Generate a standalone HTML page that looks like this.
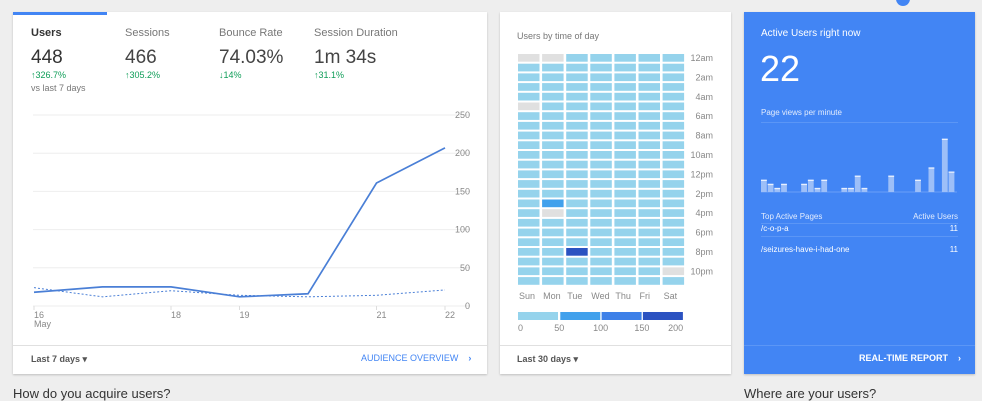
<!DOCTYPE html>
<html><head><meta charset="utf-8"><style>
body{margin:0;width:982px;height:400px;overflow:hidden;background:#eeeeee;font-family:"Liberation Sans",sans-serif;position:relative}
.card{position:absolute;top:12px;height:362px;background:#fff;box-shadow:0 1px 2px rgba(0,0,0,.2)}
.abs{position:absolute;white-space:nowrap}
</style></head><body>
<div class="abs" style="left:896px;top:-8px;width:14px;height:14px;border-radius:50%;background:#4285f4"></div>

<div class="card" style="left:13px;width:474px">
  <div class="abs" style="left:0;top:0;width:94px;height:3px;background:#4285f4"></div>
  <div class="abs" style="left:18px;top:15px">
    <div style="font-size:11px;color:#333;font-weight:600">Users</div>
    <div style="font-size:19px;color:#333;margin-top:8px">448</div>
    <div style="font-size:9px;color:#0f9d58;margin-top:1px">↑326.7%</div>
    <div style="font-size:9px;color:#777;margin-top:3px">vs last 7 days</div>
  </div>
  <div class="abs" style="left:112px;top:15px">
    <div style="font-size:11px;color:#777">Sessions</div>
    <div style="font-size:19px;color:#444;margin-top:8px">466</div>
    <div style="font-size:9px;color:#0f9d58;margin-top:1px">↑305.2%</div>
  </div>
  <div class="abs" style="left:206px;top:15px">
    <div style="font-size:11px;color:#777">Bounce Rate</div>
    <div style="font-size:19px;color:#444;margin-top:8px">74.03%</div>
    <div style="font-size:9px;color:#0f9d58;margin-top:1px">↓14%</div>
  </div>
  <div class="abs" style="left:301px;top:15px">
    <div style="font-size:11px;color:#777">Session Duration</div>
    <div style="font-size:19px;color:#444;margin-top:8px">1m 34s</div>
    <div style="font-size:9px;color:#0f9d58;margin-top:1px">↑31.1%</div>
  </div>
  <div class="abs" style="left:0;top:333px;width:474px;height:1px;background:#e0e0e0"></div>
  <div class="abs" style="left:18px;top:342px;font-size:9px;color:#555;font-weight:bold">Last 7 days ▾</div>
  <div class="abs" style="left:348px;top:341px;font-size:9px;color:#4285f4">AUDIENCE OVERVIEW &nbsp;&nbsp;&nbsp;<b>›</b></div>
</div>
<svg class="abs" style="left:0;top:0" width="982" height="400" id="lc"></svg>

<div class="card" style="left:500px;width:231px">
  <div class="abs" style="left:17px;top:19px;font-size:9px;color:#777">Users by time of day</div>
  <div class="abs" style="left:0;top:333px;width:231px;height:1px;background:#e0e0e0"></div>
  <div class="abs" style="left:17px;top:342px;font-size:9px;color:#555;font-weight:bold">Last 30 days ▾</div>
</div>
<svg class="abs" style="left:0;top:0" width="982" height="400" id="hm"></svg>

<div class="card" style="left:744px;width:231px;background:#4285f4">
  <div class="abs" style="left:17px;top:16px;font-size:10px;color:#fff">Active Users right now</div>
  <div class="abs" style="left:16px;top:36px;font-size:36px;color:#fff;font-weight:300">22</div>
  <div class="abs" style="left:17px;top:96px;font-size:8px;color:#e3ecfd">Page views per minute</div>
  <div class="abs" style="left:17px;top:110px;width:197px;height:1px;background:#5b96f6"></div>
  <div class="abs" style="left:17px;top:200px;font-size:8px;color:#e3ecfd">Top Active Pages</div>
  <div class="abs" style="right:17px;top:200px;font-size:8px;color:#e3ecfd">Active Users</div>
  <div class="abs" style="left:17px;top:211px;width:197px;height:1px;background:#5b96f6"></div>
  <div class="abs" style="left:17px;top:212px;width:197px;height:8px;overflow:hidden">
    <div class="abs" style="left:0;top:0px;font-size:8px;color:#fff">/c-o-p-a</div>
    <div class="abs" style="right:0;top:0px;font-size:8px;color:#fff">11</div>
  </div>
  <div class="abs" style="left:17px;top:224px;width:197px;height:1px;background:#5b96f6"></div>
  <div class="abs" style="left:17px;top:233px;font-size:8px;color:#fff">/seizures-have-i-had-one</div>
  <div class="abs" style="right:17px;top:233px;font-size:8px;color:#fff">11</div>
  <div class="abs" style="left:0;top:333px;width:231px;height:1px;background:#5b96f6"></div>
  <div class="abs" style="right:14px;top:341px;font-size:9px;color:#fff;font-weight:bold">REAL-TIME REPORT &nbsp;&nbsp;&nbsp;›</div>
</div>
<svg class="abs" style="left:0;top:0" width="982" height="400" id="bc"></svg>

<div class="abs" style="left:13px;top:386px;font-size:13px;color:#333">How do you acquire users?</div>
<div class="abs" style="left:744px;top:386px;font-size:13px;color:#333">Where are your users?</div>

<script>
const NS="http://www.w3.org/2000/svg";
function mk(svg,t,a){const e=document.createElementNS(NS,t);for(const k in a)e.setAttribute(k,a[k]);svg.appendChild(e);return e;}
const days=["16","17","18","19","20","21","22"];
const dayLabels=["16","","18","19","","21","22"];
const usersCurrent=[18,25,25,12,16,161,207];
const usersPrevious=[24,12,20,14,12,14,21];
const yTicks=[0,50,100,150,200,250];
const lc=document.getElementById('lc');
const xL=i=>34+i*68.5, yL=v=>306-v*0.764;
yTicks.forEach(t=>{
  const g=mk(lc,'line',{x1:33,x2:470,y1:yL(t),y2:yL(t),stroke:'#eeeeee'});
  
  
  const tx=mk(lc,'text',{x:470,y:yL(t)+3,'text-anchor':'end','font-size':9,fill:'#888','font-family':'Liberation Sans'});
  tx.textContent=t;
  
  
});
days.forEach((d,i)=>{
  if(!dayLabels[i])return;
  mk(lc,'line',{x1:xL(i),x2:xL(i),y1:306,y2:310,stroke:'#ddd'});
  const tx=mk(lc,'text',{x:xL(i),y:318,'font-size':9,fill:'#888','font-family':'Liberation Sans'});
  tx.textContent=dayLabels[i];
  
  
});
const may=mk(lc,'text',{x:34,y:327,'font-size':9,fill:'#888','font-family':'Liberation Sans'});may.textContent='May';
const pp=mk(lc,'polyline',{points:usersPrevious.map((v,i)=>xL(i)+','+yL(v)).join(' '),fill:'none',stroke:'#4a7fd6','stroke-width':1,'stroke-dasharray':'2,2'});


const cp=mk(lc,'polyline',{points:usersCurrent.map((v,i)=>xL(i)+','+yL(v)).join(' '),fill:'none',stroke:'#4a7fd6','stroke-width':1.7});



const weekdays=["Sun","Mon","Tue","Wed","Thu","Fri","Sat"];
const hourLabels=["12am","2am","4am","6am","8am","10am","12pm","2pm","4pm","6pm","8pm","10pm"];
const legendTicks=[0,50,100,150,200];
const heatValues=[
 [0,20,20,20,20,0,20,20,20,20,20,20,20,20,20,20,20,20,20,20,20,20,20,20],
 [0,20,20,20,20,20,20,20,20,20,20,20,20,20,20,70,0,20,20,20,20,20,20,20],
 [20,20,20,20,20,20,20,20,20,20,20,20,20,20,20,20,20,20,20,20,180,20,20,20],
 [20,20,20,20,20,20,20,20,20,20,20,20,20,20,20,20,20,20,20,20,20,20,20,20],
 [20,20,20,20,20,20,20,20,20,20,20,20,20,20,20,20,20,20,20,20,20,20,20,20],
 [20,20,20,20,20,20,20,20,20,20,20,20,20,20,20,20,20,20,20,20,20,20,20,20],
 [20,20,20,20,20,20,20,20,20,20,20,20,20,20,20,20,20,20,20,20,20,20,0,20]];
const hm=document.getElementById('hm');
const colors=['#95d3ec','#42a1ec','#3d80e8','#2b52c1'];
const col=v=>v<=0?'#e0e0e0':colors[Math.min(3,Math.floor(v/50))];
const xH=c=>518+c*24.1, yH=r=>54+r*9.7;
heatValues.forEach((row,c)=>row.forEach((v,r)=>{
  const e=mk(hm,'rect',{x:xH(c),y:yH(r),width:21.5,height:7.7,fill:col(v)});
  
  
}));
hourLabels.forEach((h,i)=>{
  const t=mk(hm,'text',{x:713,y:yH(i*2)+7,'text-anchor':'end','font-size':9,fill:'#888','font-family':'Liberation Sans'});t.textContent=h;
  
  
});
weekdays.forEach((d,i)=>{
  const t=mk(hm,'text',{x:xH(i)+1,y:299,'font-size':9,fill:'#888','font-family':'Liberation Sans'});t.textContent=d;
  
  
});
const xLg=v=>518+v*0.826;
for(let i=0;i<4;i++){
  const e=mk(hm,'rect',{x:xLg(legendTicks[i])+(i?1:0),y:312,width:40,height:8,fill:colors[i]});
  
  
}
legendTicks.forEach((t,i)=>{
  const tx=mk(hm,'text',{x:xLg(t),y:331,'text-anchor':i==0?'start':i==4?'end':'middle','font-size':9,fill:'#888','font-family':'Liberation Sans'});tx.textContent=t;
  
  
});

const pageviews=[3,2,1,2,0,0,2,3,1,3,0,0,1,1,4,1,0,0,0,4,0,0,0,3,0,6,0,13,5];
const bc=document.getElementById('bc');
const xB=i=>761+i*6.7, yB=v=>192-v*4.1;
mk(bc,'line',{x1:761,x2:957,y1:192,y2:192,stroke:'#6aa0f7'});
pageviews.forEach((v,i)=>{
  if(v<=0)return;
  const e=mk(bc,'rect',{x:xB(i),y:yB(v),width:5.8,height:192-yB(v),fill:'#9dbff8'});
  
  
  mk(bc,'rect',{x:xB(i),y:yB(v),width:5.8,height:1.3,fill:'#e8f0fe'});
});
</script>
</body></html>
